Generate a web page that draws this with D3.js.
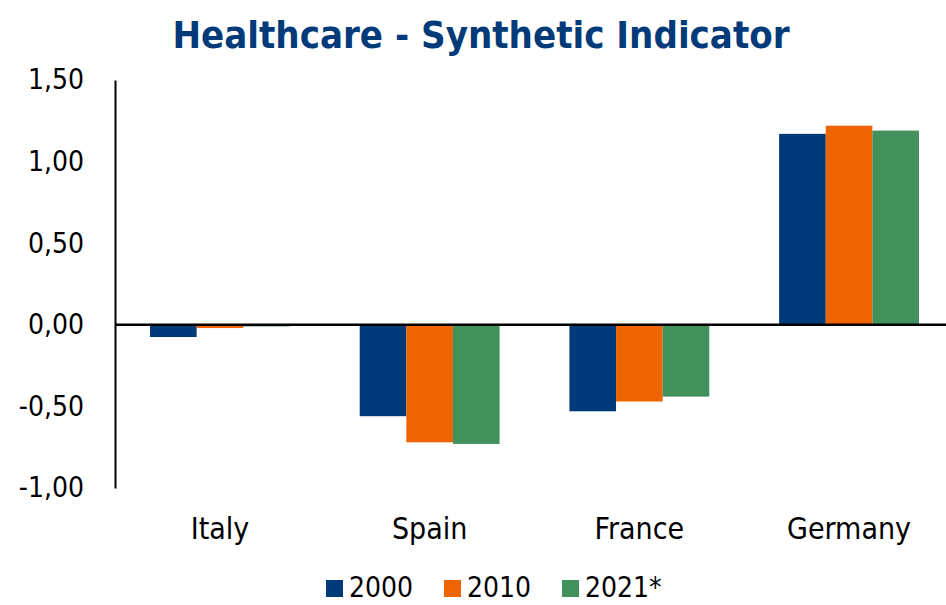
<!DOCTYPE html>
<html>
<head>
<meta charset="utf-8">
<script src="https://cdn.jsdelivr.net/npm/d3@7"></script>
<style>
  body { margin: 0; background: #fff; }
  svg { display: block; }
</style>
</head>
<body>
<script>
const WIDTH = 946;
const HEIGHT = 605;

const categories = ["Italy", "Spain", "France", "Germany"];
const years = ["2000", "2010", "2021*"];
const values2000 = [-0.075, -0.56, -0.53, 1.17];
const values2010 = [-0.02, -0.72, -0.47, 1.22];
const values2021 = [-0.01, -0.73, -0.44, 1.19];
const yTicks = [-1.0, -0.5, 0, 0.5, 1.0, 1.5];
const colors = ["#003A78", "#EE6400", "#42915C"];

const series = [values2000, values2010, values2021];
const rows = categories.map((c, i) => ({
    name: c,
    values: years.map((y, j) => ({ year: y, value: series[j][i], color: colors[j] }))
}));

const FONT = "'DejaVu Sans Condensed', 'DejaVu Sans', sans-serif";

const svg = d3.select("body").append("svg")
    .attr("width", WIDTH)
    .attr("height", HEIGHT)
    .attr("viewBox", [0, 0, WIDTH, HEIGHT]);

const x = d3.scaleBand()
    .domain(categories)
    .range([115, 954])
    .paddingInner(0.333)
    .paddingOuter(0.167);

const xInner = d3.scaleBand()
    .domain(years)
    .range([0, x.bandwidth()]);

const y = d3.scaleLinear()
    .domain([-1, 1.5])
    .range([488, 80]);

// title
svg.append("text")
    .attr("x", 481)
    .attr("y", 48)
    .attr("text-anchor", "middle")
    .attr("font-family", FONT)
    .attr("font-weight", "bold")
    .attr("font-size", 38)
    .attr("fill", "#003A78")
    .text("Healthcare - Synthetic Indicator");

// bars
svg.append("g")
    .selectAll("g")
    .data(rows)
    .join("g")
        .attr("transform", d => `translate(${x(d.name)},0)`)
    .selectAll("rect")
    .data(d => d.values)
    .join("rect")
        .attr("x", d => xInner(d.year))
        .attr("y", d => y(Math.max(0, d.value)))
        .attr("width", xInner.bandwidth())
        .attr("height", d => Math.abs(y(d.value) - y(0)))
        .attr("fill", d => d.color);

// y axis
const yAxis = svg.append("g")
    .attr("transform", "translate(115,0)")
    .call(d3.axisLeft(y)
        .tickValues(yTicks)
        .tickSize(0)
        .tickPadding(31)
        .tickFormat(d => d.toFixed(2).replace(".", ",")));
yAxis.select(".domain").attr("stroke", "#000").attr("stroke-width", 2);
yAxis.selectAll("text")
    .attr("font-family", FONT)
    .attr("font-size", 28)
    .attr("fill", "#000");

// zero line
svg.append("line")
    .attr("x1", 115)
    .attr("x2", WIDTH)
    .attr("y1", y(0))
    .attr("y2", y(0))
    .attr("stroke", "#000")
    .attr("stroke-width", 2.5);

// category labels
svg.append("g")
    .selectAll("text")
    .data(categories)
    .join("text")
        .attr("x", d => x(d) + x.bandwidth() / 2)
        .attr("y", 539)
        .attr("text-anchor", "middle")
        .attr("font-family", FONT)
        .attr("font-size", 30)
        .attr("fill", "#000")
        .text(d => d);

// legend
const legendX = [326, 444, 562];
const legend = svg.append("g")
    .selectAll("g")
    .data(years)
    .join("g")
        .attr("transform", (d, i) => `translate(${legendX[i]},580)`);
legend.append("rect")
    .attr("width", 17)
    .attr("height", 17)
    .attr("fill", (d, i) => colors[i]);
legend.append("text")
    .attr("x", 23)
    .attr("y", 17)
    .attr("font-family", FONT)
    .attr("font-size", 28)
    .attr("fill", "#000")
    .text(d => d);
</script>
</body>
</html>
